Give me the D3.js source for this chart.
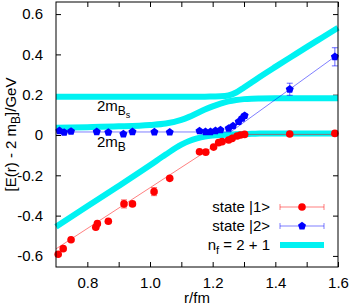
<html>
	<head>
		<meta content="text/html;charset=utf-8" http-equiv="Content-Type">
		<script src="https://d3js.org/d3.v7.min.js"></script>
		<style>
		body { margin: 0; background: white; }
		text { font-family: "Liberation Sans", Arial, sans-serif; }
		</style>
	</head>
	<body>
		<svg id="page"></svg>
		<script>

		// state |1> data points
		var r1 = [0.707, 0.723, 0.748, 0.827, 0.832, 0.867, 0.917, 0.944, 1.013, 1.063, 1.158, 1.178, 1.203, 1.219, 1.230, 1.251, 1.262, 1.278, 1.289, 1.302, 1.446, 1.590];
		var E1 = [-0.592, -0.564, -0.520, -0.458, -0.440, -0.428, -0.342, -0.342, -0.281, -0.215, -0.083, -0.085, -0.060, -0.038, -0.033, -0.025, -0.017, -0.005, 0.000, 0.003, 0.005, 0.008];
		var err1 = [0.006, 0.006, 0.008, 0.008, 0.008, 0.008, 0.020, 0.010, 0.020, 0.008, 0.006, 0.006, 0.006, 0.006, 0.006, 0.006, 0.006, 0.006, 0.006, 0.006, 0.006, 0.008];

		// state |2> data points
		var r2 = [0.711, 0.726, 0.748, 0.830, 0.867, 0.915, 0.944, 1.014, 1.063, 1.158, 1.177, 1.193, 1.209, 1.225, 1.251, 1.265, 1.283, 1.294, 1.302, 1.446, 1.590];
		var E2 = [0.021, 0.013, 0.018, 0.016, 0.013, 0.005, 0.016, 0.015, 0.014, 0.020, 0.016, 0.016, 0.021, 0.025, 0.033, 0.045, 0.066, 0.083, 0.096, 0.227, 0.388];
		var err2 = [0.005, 0.005, 0.005, 0.005, 0.005, 0.005, 0.005, 0.005, 0.005, 0.005, 0.005, 0.005, 0.005, 0.005, 0.006, 0.006, 0.008, 0.008, 0.010, 0.030, 0.045];

		// thin fit lines
		var fit1R = [0.70, 1.262, 1.60];
		var fit1E = [-0.565, 0.003, 0.003];
		var fit2R = [0.70, 1.257, 1.60];
		var fit2E = [0.015, 0.015, 0.400];

		// n_f = 2+1 curves (thick cyan)
		var curveR = [0.70, 0.80, 0.90, 1.00, 1.05, 1.10, 1.125, 1.15, 1.175, 1.20, 1.225, 1.25, 1.275, 1.30, 1.325, 1.35, 1.40, 1.45, 1.50, 1.55, 1.60];
		var curveUpper = [0.190, 0.190, 0.190, 0.190, 0.190, 0.190, 0.190, 0.190, 0.190, 0.191, 0.192, 0.196, 0.211, 0.236, 0.262, 0.288, 0.338, 0.387, 0.436, 0.484, 0.532];
		var curveMiddle = [0.036, 0.039, 0.043, 0.050, 0.057, 0.075, 0.090, 0.108, 0.126, 0.142, 0.156, 0.167, 0.174, 0.178, 0.180, 0.181, 0.182, 0.182, 0.182, 0.182, 0.182];
		var curveLower = [-0.455, -0.354, -0.253, -0.150, -0.097, -0.048, -0.030, -0.017, -0.008, -0.003, 0.000, 0.002, 0.004, 0.005, 0.006, 0.007, 0.008, 0.008, 0.008, 0.008, 0.008];

		// ticks
		var xTicks = [0.8, 0.9, 1.0, 1.1, 1.2, 1.3, 1.4, 1.5, 1.6];
		var xLabels = [0.8, 1.0, 1.2, 1.4, 1.6];
		var yTicks = [-0.6, -0.4, -0.2, 0, 0.2, 0.4, 0.6];

		var svg = d3.select("#page").attr("width", 349).attr("height", 305);

		var pLeft = 56, pRight = 338, pTop = 2, pBottom = 267;
		var x = d3.scaleLinear().domain([0.7, 1.6]).range([pLeft, pRight]);
		var y = d3.scaleLinear().domain([-0.655, 0.66]).range([pBottom, pTop]);

		var fmt = function(d){
			if (xLabels.indexOf(+d.toFixed(1)) < 0) return "";
			return d.toFixed(1);
		};

		// axes, ticks pointing inward
		var gx = svg.append("g").attr("transform", "translate(0," + pBottom + ")")
			.call(d3.axisBottom(x).tickValues(xTicks).tickFormat(fmt).tickSizeInner(-5).tickSizeOuter(0).tickPadding(10));
		var gxt = svg.append("g").attr("transform", "translate(0," + pTop + ")")
			.call(d3.axisTop(x).tickValues(xTicks).tickFormat("").tickSizeInner(-5).tickSizeOuter(0));
		var gy = svg.append("g").attr("transform", "translate(" + pLeft + ",0)")
			.call(d3.axisLeft(y).tickValues(yTicks).tickFormat(function(d){ return d === 0 ? "0" : d.toFixed(1); }).tickSizeInner(-5).tickSizeOuter(0).tickPadding(13));
		var gyr = svg.append("g").attr("transform", "translate(" + pRight + ",0)")
			.call(d3.axisRight(y).tickValues(yTicks).tickFormat("").tickSizeInner(-5).tickSizeOuter(0));
		[gx, gxt, gy, gyr].forEach(function(g){
			g.select(".domain").remove();
			g.selectAll("text").style("font-size", "15px").attr("fill", "black");
			g.selectAll("line").attr("stroke", "black");
		});

		// thick cyan curves
		var curveLine = d3.line().x(function(d){ return x(d[0]); }).y(function(d){ return y(d[1]); }).curve(d3.curveMonotoneX);
		[curveUpper, curveMiddle, curveLower].forEach(function(vals){
			svg.append("path")
				.attr("d", curveLine(curveR.map(function(r, i){ return [r, vals[i]]; })))
				.attr("fill", "none")
				.attr("stroke", "#00f2f2")
				.attr("stroke-width", 6);
		});

		var plain = d3.line().x(function(d){ return x(d[0]); }).y(function(d){ return y(d[1]); });

		// fit lines
		svg.append("path")
			.attr("d", plain(fit1R.map(function(r, i){ return [r, fit1E[i]]; })))
			.attr("fill", "none").attr("stroke", "red").attr("stroke-opacity", 0.5).attr("stroke-width", 1);
		svg.append("path")
			.attr("d", plain(fit2R.map(function(r, i){ return [r, fit2E[i]]; })))
			.attr("fill", "none").attr("stroke", "blue").attr("stroke-opacity", 0.5).attr("stroke-width", 1);

		function pentagon(cx, cy, rad){
			var pts = [];
			for (var k = 0; k < 5; k++){
				var a = -Math.PI / 2 + k * 2 * Math.PI / 5;
				pts.push([cx + rad * Math.cos(a), cy + rad * Math.sin(a)]);
			}
			return "M" + pts.map(function(p){ return p[0].toFixed(2) + "," + p[1].toFixed(2); }).join("L") + "Z";
		}

		function errorBars(rs, es, errs, col){
			var g = svg.append("g").attr("stroke", col).attr("stroke-opacity", 0.6).attr("stroke-width", 1);
			rs.forEach(function(r, i){
				var px = x(r), y0 = y(es[i] - errs[i]), y1 = y(es[i] + errs[i]);
				g.append("line").attr("x1", px).attr("x2", px).attr("y1", y0).attr("y2", y1);
				g.append("line").attr("x1", px - 3).attr("x2", px + 3).attr("y1", y0).attr("y2", y0);
				g.append("line").attr("x1", px - 3).attr("x2", px + 3).attr("y1", y1).attr("y2", y1);
			});
		}

		errorBars(r1, E1, err1, "red");
		errorBars(r2, E2, err2, "blue");

		// points
		r1.forEach(function(r, i){
			svg.append("circle").attr("cx", x(r)).attr("cy", y(E1[i])).attr("r", 3.8).attr("fill", "red");
		});
		r2.forEach(function(r, i){
			svg.append("path").attr("d", pentagon(x(r), y(E2[i]), 4.2)).attr("fill", "blue");
		});

		// curve labels
		var lbs = svg.append("text").attr("x", 97).attr("y", 111).style("font-size", "15px");
		lbs.append("tspan").text("2m");
		lbs.append("tspan").attr("dy", 4).style("font-size", "12px").text("B");
		lbs.append("tspan").attr("dy", 3).style("font-size", "9px").text("s");

		var lb = svg.append("text").attr("x", 97).attr("y", 147).style("font-size", "15px");
		lb.append("tspan").text("2m");
		lb.append("tspan").attr("dy", 4).style("font-size", "12px").text("B");

		// frame
		svg.append("rect")
			.attr("x", pLeft).attr("y", pTop)
			.attr("width", pRight - pLeft).attr("height", pBottom - pTop)
			.attr("fill", "none").attr("stroke", "black").attr("stroke-width", 1);

		// axis titles
		svg.append("text")
			.attr("x", (pLeft + pRight) / 2).attr("y", 303)
			.style("font-size", "15px").style("text-anchor", "middle")
			.text("r/fm");
		var yt = svg.append("text")
			.attr("transform", "translate(16," + (pTop + pBottom) / 2 + ") rotate(-90)")
			.style("font-size", "15px").style("text-anchor", "middle");
		yt.append("tspan").text("[E(r) - 2 m");
		yt.append("tspan").attr("dy", 4).style("font-size", "12px").text("B");
		yt.append("tspan").attr("dy", -4).text("]/GeV");

		// legend
		var legX1 = 280, legX2 = 324, legC = 302, legTx = 270;
		var rows = [207, 226, 245];

		svg.append("text").attr("x", legTx).attr("y", rows[0] + 5).style("font-size", "15px").style("text-anchor", "end").text("state |1>");
		svg.append("text").attr("x", legTx).attr("y", rows[1] + 5).style("font-size", "15px").style("text-anchor", "end").text("state |2>");
		var t3 = svg.append("text").attr("x", legTx).attr("y", rows[2] + 5).style("font-size", "15px").style("text-anchor", "end");
		t3.append("tspan").text("n");
		t3.append("tspan").attr("dy", 4).style("font-size", "11px").text("f");
		t3.append("tspan").attr("dy", -4).text(" = 2 + 1");

		[["red", rows[0]], ["blue", rows[1]]].forEach(function(s){
			var g = svg.append("g").attr("stroke", s[0]).attr("stroke-opacity", 0.5).attr("stroke-width", 1);
			g.append("line").attr("x1", legX1).attr("x2", legX2).attr("y1", s[1]).attr("y2", s[1]);
			g.append("line").attr("x1", legX1).attr("x2", legX1).attr("y1", s[1] - 3).attr("y2", s[1] + 3);
			g.append("line").attr("x1", legX2).attr("x2", legX2).attr("y1", s[1] - 3).attr("y2", s[1] + 3);
		});
		svg.append("circle").attr("cx", legC).attr("cy", rows[0]).attr("r", 3.8).attr("fill", "red");
		svg.append("path").attr("d", pentagon(legC, rows[1], 4.2)).attr("fill", "blue");
		svg.append("line").attr("x1", legX1).attr("x2", legX2).attr("y1", rows[2]).attr("y2", rows[2])
			.attr("stroke", "#00f2f2").attr("stroke-width", 6);

		</script>
	</body>
</html>
